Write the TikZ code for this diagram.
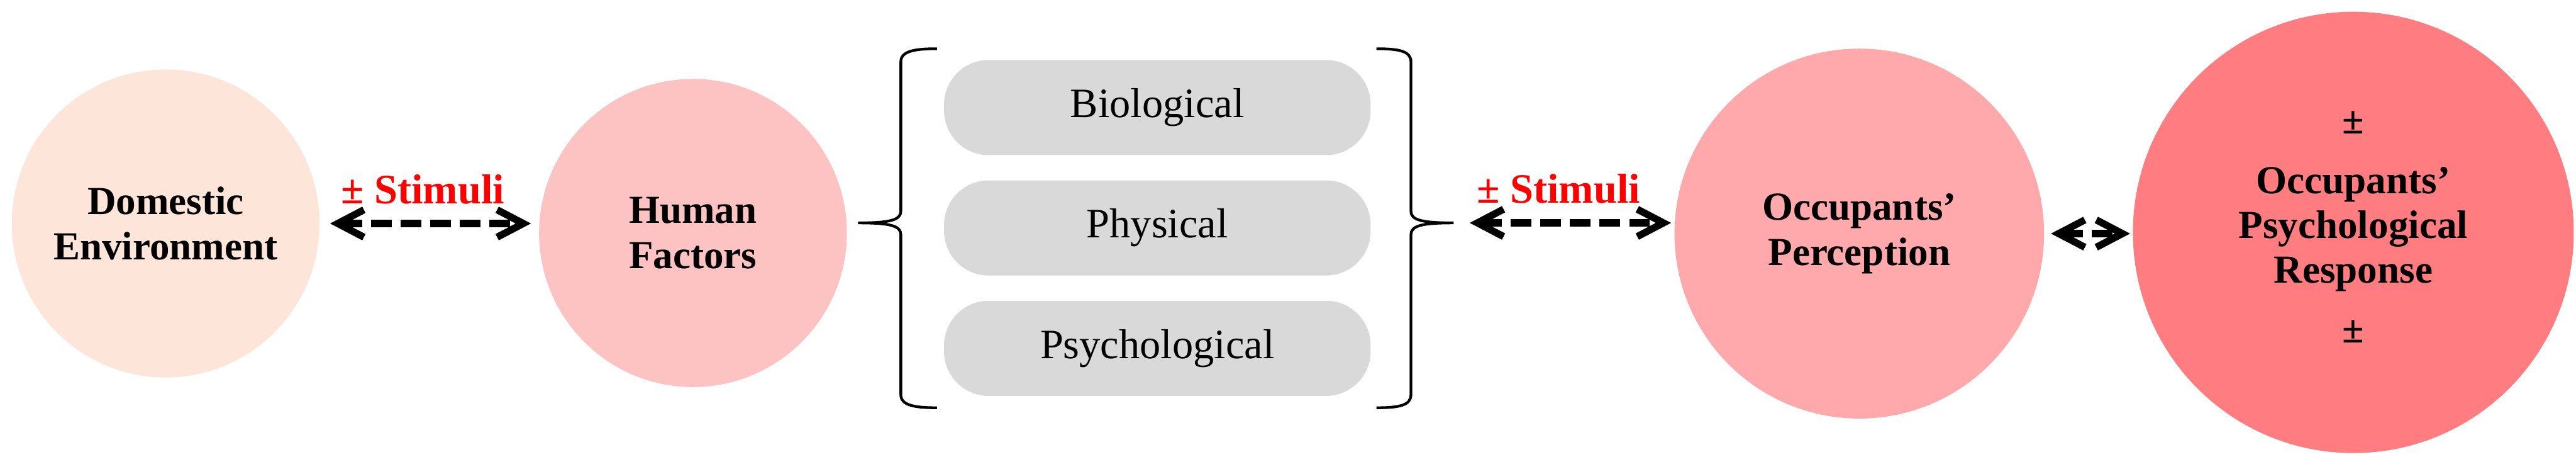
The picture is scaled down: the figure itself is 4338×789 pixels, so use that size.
\documentclass[tikz,border=0pt]{standalone}
\usepackage{fontspec}
\setmainfont{Liberation Serif}
\usepackage{tikz}
\usetikzlibrary{arrows.meta, positioning, calc}
\definecolor{envpeach}{HTML}{FDE6D9}
\definecolor{humpink}{HTML}{FDC3C3}
\definecolor{perpink}{HTML}{FFA9AC}
\definecolor{respink}{HTML}{FF7C80}
\definecolor{pillgray}{HTML}{D9D9D9}
\definecolor{stimred}{HTML}{FF0000}
\tikzstyle{factor} = [
  circle, draw=none, inner sep=0pt, align=center,
  font=\fontsize{19}{21.5}\selectfont\bfseries
]
\tikzstyle{aspect} = [
  rectangle, fill=pillgray, rounded corners=0.75cm,
  minimum width=7.18cm, minimum height=1.6cm,
  font=\fontsize{20}{24}\selectfont
]
\tikzstyle{stimarrow} = [
  {Straight Barb[length=4.4mm,width=4.6mm]}-{Straight Barb[length=4.4mm,width=4.6mm]},
  line width=3.4pt, dash pattern=on 9.9pt off 4.3pt
]
\tikzstyle{stimlabel} = [font=\fontsize{20}{24}\selectfont\bfseries, text=stimred]
\tikzstyle{brace} = [line width=1.3pt]

\begin{document}
\begin{tikzpicture}[x=0.01cm, y=-0.01cm]
  \useasboundingbox (0,0) rectangle (4338,789);

  % Circles
  \node[factor, fill=envpeach, minimum size=5.18cm] (dom) at (279,376) {Domestic\\Environment};
  \node[factor, fill=humpink, minimum size=5.18cm] (hum) at (1167,392) {Human\\Factors};
  \node[factor, fill=perpink, minimum size=6.22cm] (per) at (3131,393) {Occupants’\\Perception};
  \node[factor, fill=respink, minimum size=7.42cm] (res) at (3963,391) {};
  \node[factor] (restext) at (3963,382) {±\\[7pt]Occupants’\\Psychological\\Response\\[7pt]±};

  % Human factor aspects
  \node[aspect] (bio) at (1949,181) {Biological};
  \node[aspect, below=0.41cm of bio] (phy) {Physical};
  \node[aspect, below=0.41cm of phy] (psy) {Psychological};

  % Braces
  \coordinate (ltip) at (1445,375);
  \coordinate (rtip) at (2448,375);
  \draw[brace] (1578,82) .. controls (1540,82) and (1517,86) .. (1517,104)
    -- (1517,355) .. controls (1517,370) and (1500,375) .. (ltip)
    .. controls (1500,375) and (1517,380) .. (1517,395)
    -- (1517,664) .. controls (1517,682) and (1540,686) .. (1578,686);
  \draw[brace] (2318,82) .. controls (2356,82) and (2376,86) .. (2376,104)
    -- (2376,355) .. controls (2376,370) and (2393,375) .. (rtip)
    .. controls (2393,375) and (2376,380) .. (2376,395)
    -- (2376,664) .. controls (2376,682) and (2356,686) .. (2318,686);

  % Connectors
  \draw[stimarrow, shorten <=0.17cm, shorten >=0.13cm] (dom.east) -- (dom.east -| hum.west)
    node[stimlabel, midway, above=0.15cm, xshift=-0.11cm] {± Stimuli};
  \draw[stimarrow, shorten <=0.27cm, shorten >=0.05cm] (rtip) -- (rtip -| per.west)
    node[stimlabel, midway, above=0.15cm, xshift=-0.09cm] {± Stimuli};
  \draw[stimarrow, shorten <=0.11cm, shorten >=0.04cm] (per.east) -- (per.east -| res.west);

\end{tikzpicture}
\end{document}
